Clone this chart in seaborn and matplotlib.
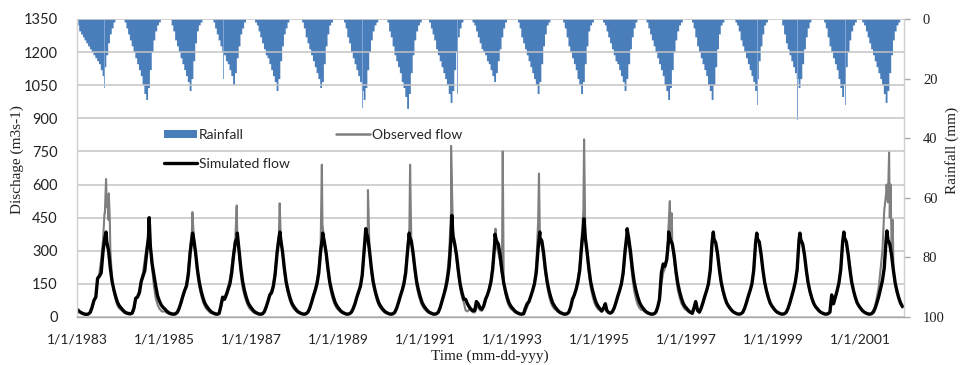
import matplotlib
matplotlib.use("Agg")
import matplotlib.pyplot as plt
import pandas as pd
import seaborn as sns
from matplotlib.lines import Line2D
from matplotlib.patches import Patch

# ---------------- data ----------------
years = list(range(1983, 2002))
half_month_days = [8, 23]          # two readings per month

sim_flow = [
    [32, 24, 19, 15, 13, 12, 14, 22, 45, 75, 90, 175, 185, 200, 300, 360, 340, 300, 220, 160, 120, 90, 65, 50],
    [40, 30, 22, 18, 16, 15, 18, 40, 85, 90, 110, 160, 185, 210, 290, 360, 320, 240, 190, 140, 95, 72, 55, 44],
    [36, 27, 20, 16, 14, 13, 15, 22, 40, 65, 95, 120, 140, 190, 290, 355, 350, 290, 215, 160, 118, 88, 64, 50],
    [38, 28, 21, 17, 14, 13, 16, 50, 90, 80, 100, 125, 150, 200, 280, 340, 360, 300, 220, 160, 118, 88, 64, 50],
    [38, 28, 21, 17, 14, 13, 15, 24, 45, 70, 100, 110, 140, 195, 290, 355, 350, 295, 220, 160, 120, 90, 65, 50],
    [38, 28, 21, 17, 14, 13, 15, 22, 40, 65, 95, 120, 150, 200, 300, 360, 340, 290, 220, 160, 120, 90, 65, 50],
    [38, 28, 21, 17, 14, 13, 15, 22, 38, 60, 90, 115, 140, 190, 300, 390, 360, 295, 220, 160, 120, 90, 65, 50],
    [38, 28, 21, 17, 14, 13, 15, 22, 40, 65, 95, 120, 150, 200, 300, 365, 345, 290, 220, 160, 120, 90, 65, 50],
    [38, 28, 21, 17, 14, 13, 15, 22, 42, 70, 100, 130, 170, 230, 360, 370, 330, 280, 210, 150, 110, 80, 80, 60],
    [45, 35, 28, 30, 70, 60, 40, 35, 50, 80, 100, 125, 160, 220, 330, 345, 330, 280, 210, 155, 115, 85, 62, 48],
    [38, 28, 21, 17, 14, 13, 15, 40, 60, 70, 95, 120, 150, 200, 310, 360, 345, 290, 215, 160, 118, 88, 64, 50],
    [38, 28, 21, 17, 14, 13, 15, 22, 45, 80, 100, 125, 160, 210, 320, 400, 360, 295, 220, 160, 120, 90, 65, 50],
    [38, 28, 40, 60, 30, 20, 18, 24, 40, 65, 95, 120, 150, 200, 300, 370, 355, 295, 220, 160, 120, 90, 65, 50],
    [38, 28, 21, 17, 14, 13, 15, 22, 45, 80, 200, 240, 230, 260, 350, 350, 330, 280, 210, 155, 115, 85, 62, 48],
    [38, 28, 21, 17, 40, 70, 30, 22, 40, 65, 95, 120, 150, 210, 340, 355, 335, 285, 215, 158, 118, 88, 64, 50],
    [38, 28, 21, 17, 14, 13, 15, 22, 40, 65, 95, 120, 150, 210, 335, 355, 340, 285, 215, 158, 118, 88, 64, 50],
    [38, 28, 21, 17, 14, 13, 15, 22, 40, 65, 95, 125, 160, 215, 350, 350, 330, 280, 212, 155, 115, 86, 63, 48],
    [38, 28, 21, 17, 14, 13, 15, 22, 100, 60, 90, 120, 155, 215, 340, 360, 340, 285, 215, 158, 118, 88, 64, 50],
    [38, 28, 21, 17, 14, 13, 15, 22, 40, 65, 95, 130, 165, 220, 350, 350, 330, 280, 212, 155, 115, 86, 63, 48],
]
# (value, month, day) of the simulated annual peak
sim_peaks = [
    (385, 9, 2), (450, 8, 29), (380, 8, 29), (380, 9, 8), (385, 9, 1),
    (380, 8, 25), (400, 8, 22), (380, 8, 22), (460, 8, 15), (375, 8, 11),
    (385, 8, 22), (445, 8, 28), (400, 8, 25), (385, 8, 8), (385, 8, 18),
    (380, 8, 18), (380, 8, 15), (385, 8, 18), (390, 8, 15),
]

obs_flow = [
    [28, 20, 16, 13, 11, 10, 12, 20, 40, 70, 95, 170, 200, 260, 350, 470, 500, 440, 300, 170, 110, 75, 50, 38],
    [32, 24, 17, 14, 12, 11, 14, 30, 80, 95, 120, 170, 200, 260, 320, 370, 320, 220, 140, 85, 55, 38, 28, 24],
    [26, 19, 15, 12, 10, 10, 12, 18, 35, 60, 90, 120, 150, 210, 320, 390, 360, 280, 200, 140, 100, 70, 50, 36],
    [28, 20, 16, 13, 11, 10, 13, 40, 80, 90, 110, 140, 170, 230, 300, 360, 370, 280, 190, 130, 95, 70, 50, 36],
    [28, 20, 16, 13, 11, 10, 12, 20, 40, 70, 105, 120, 150, 210, 310, 370, 360, 285, 205, 145, 105, 75, 54, 40],
    [30, 22, 17, 14, 12, 11, 13, 20, 38, 65, 100, 130, 165, 220, 330, 420, 340, 280, 200, 140, 100, 72, 52, 38],
    [30, 22, 17, 14, 12, 11, 13, 20, 35, 55, 85, 110, 140, 185, 290, 360, 410, 290, 200, 145, 105, 75, 54, 40],
    [30, 22, 17, 14, 12, 11, 13, 20, 38, 62, 95, 125, 165, 220, 330, 400, 340, 280, 200, 140, 100, 72, 52, 38],
    [30, 22, 17, 14, 12, 11, 13, 20, 40, 70, 105, 150, 200, 290, 480, 400, 330, 260, 190, 130, 90, 65, 30, 25],
    [35, 28, 22, 20, 40, 45, 30, 28, 45, 70, 100, 130, 170, 240, 330, 320, 290, 250, 200, 150, 100, 68, 48, 36],
    [30, 22, 17, 14, 12, 11, 13, 25, 45, 65, 95, 125, 160, 230, 430, 360, 320, 270, 200, 140, 95, 65, 47, 36],
    [30, 22, 17, 14, 12, 11, 13, 20, 42, 75, 100, 130, 170, 230, 360, 480, 370, 280, 200, 135, 95, 65, 47, 36],
    [30, 22, 30, 40, 25, 18, 15, 20, 38, 60, 90, 115, 145, 190, 280, 340, 320, 260, 180, 120, 80, 55, 40, 32],
    [30, 22, 17, 14, 12, 11, 13, 20, 42, 75, 150, 200, 220, 280, 420, 390, 320, 260, 185, 125, 88, 62, 46, 35],
    [30, 22, 18, 15, 30, 50, 25, 20, 38, 62, 92, 118, 150, 210, 340, 355, 330, 280, 210, 152, 112, 82, 60, 46],
    [34, 26, 19, 15, 13, 12, 14, 20, 38, 62, 92, 118, 150, 210, 335, 355, 335, 280, 212, 155, 115, 85, 62, 47],
    [34, 26, 19, 15, 13, 12, 14, 20, 38, 62, 92, 122, 158, 212, 348, 348, 325, 276, 208, 152, 112, 84, 61, 46],
    [34, 26, 19, 15, 13, 12, 14, 20, 60, 58, 88, 118, 152, 212, 338, 358, 338, 282, 240, 155, 115, 85, 62, 47],
    [34, 26, 19, 15, 13, 12, 20, 30, 50, 90, 140, 220, 300, 480, 560, 520, 450, 320, 220, 150, 105, 75, 55, 42],
]
# (year, month, day, value) observed daily spikes
obs_spikes = [
    (1983, 8, 20, 470), (1983, 9, 2, 625), (1983, 9, 12, 530), (1983, 9, 25, 560), (1983, 10, 3, 450),
    (1984, 8, 28, 380), (1985, 8, 27, 475), (1986, 9, 3, 505), (1987, 8, 30, 515),
    (1988, 8, 18, 690), (1989, 9, 9, 575), (1990, 8, 29, 690), (1991, 8, 8, 775),
    (1992, 8, 15, 400), (1992, 10, 15, 750), (1993, 8, 15, 650), (1994, 8, 29, 805),
    (1995, 8, 28, 370), (1996, 8, 18, 525), (1996, 9, 3, 470), (1997, 8, 20, 380),
    (2001, 8, 12, 600), (2001, 9, 2, 745), (2001, 9, 14, 600), (2001, 10, 3, 440),
]

rain = [
    [2, 4, 5, 6, 7, 8, 9, 10, 11, 12, 13, 14, 15, 17, 19, 16, 12, 8, 5, 3, 1, 0, 0, 0],
    [0, 0, 1, 3, 5, 7, 9, 11, 13, 15, 17, 19, 22, 25, 27, 23, 17, 11, 7, 4, 2, 1, 0, 0],
    [0, 0, 0, 0, 2, 4, 7, 9, 11, 13, 15, 17, 19, 21, 24, 20, 14, 8, 4, 2, 1, 0, 0, 0],
    [0, 0, 0, 1, 3, 5, 7, 9, 11, 12, 14, 15, 17, 19, 22, 18, 13, 9, 5, 3, 1, 0, 0, 0],
    [0, 0, 1, 2, 4, 6, 8, 10, 12, 13, 15, 17, 19, 21, 24, 20, 14, 9, 5, 3, 1, 0, 0, 0],
    [0, 0, 0, 0, 1, 3, 6, 8, 10, 12, 14, 16, 18, 20, 23, 21, 15, 9, 5, 2, 1, 0, 0, 0],
    [0, 0, 0, 1, 3, 6, 8, 11, 13, 15, 17, 19, 21, 24, 27, 23, 17, 11, 7, 4, 2, 1, 0, 0],
    [0, 0, 0, 1, 4, 6, 9, 12, 14, 16, 18, 21, 23, 26, 30, 25, 18, 12, 7, 4, 2, 1, 0, 0],
    [0, 0, 1, 3, 5, 7, 10, 12, 14, 16, 18, 20, 22, 25, 28, 24, 17, 11, 6, 3, 1, 0, 0, 0],
    [0, 0, 1, 2, 4, 6, 8, 10, 11, 12, 14, 15, 17, 19, 21, 18, 14, 10, 6, 3, 1, 0, 0, 0],
    [0, 0, 0, 1, 3, 6, 8, 10, 12, 14, 16, 18, 20, 22, 25, 21, 15, 9, 5, 2, 1, 0, 0, 0],
    [0, 0, 0, 0, 1, 3, 6, 9, 11, 13, 15, 17, 20, 22, 25, 21, 15, 9, 4, 2, 1, 0, 0, 0],
    [0, 0, 1, 2, 4, 6, 8, 10, 12, 14, 15, 17, 19, 21, 24, 20, 15, 10, 6, 3, 1, 0, 0, 0],
    [0, 0, 1, 3, 5, 7, 9, 11, 13, 15, 17, 19, 22, 24, 27, 23, 17, 11, 7, 4, 2, 1, 0, 0],
    [0, 0, 0, 1, 3, 6, 9, 11, 13, 15, 17, 19, 22, 24, 27, 22, 16, 10, 5, 2, 1, 0, 0, 0],
    [0, 0, 0, 1, 2, 4, 7, 9, 11, 13, 15, 17, 19, 21, 24, 20, 14, 9, 5, 2, 1, 0, 0, 0],
    [0, 0, 0, 0, 0, 2, 5, 8, 10, 12, 14, 16, 18, 20, 23, 20, 15, 10, 6, 3, 1, 0, 0, 0],
    [0, 0, 0, 0, 1, 3, 6, 9, 11, 13, 15, 17, 20, 23, 26, 22, 16, 11, 7, 4, 2, 1, 0, 0],
    [0, 1, 2, 4, 6, 8, 10, 12, 14, 16, 18, 20, 22, 25, 28, 24, 18, 12, 7, 4, 2, 1, 0, 0],
]
# (year, month, day, mm) single heavy-rain days
rain_spikes = [
    (1983, 6, 10, 24), (1983, 8, 20, 23), (1984, 7, 1, 39), (1984, 9, 5, 34), (1984, 8, 10, 30),
    (1985, 7, 15, 28), (1985, 9, 1, 26), (1986, 7, 20, 27), (1986, 5, 15, 20), (1987, 8, 1, 27),
    (1987, 6, 10, 22), (1988, 9, 20, 36), (1988, 7, 10, 26), (1989, 7, 25, 30), (1989, 9, 15, 28),
    (1990, 8, 5, 32), (1990, 6, 20, 28), (1991, 8, 15, 33), (1991, 10, 1, 25), (1992, 6, 15, 36),
    (1992, 10, 10, 36), (1993, 7, 20, 28), (1994, 8, 10, 30), (1995, 8, 1, 30), (1995, 9, 20, 33),
    (1996, 8, 20, 33), (1996, 6, 15, 29), (1997, 10, 20, 42), (1997, 7, 15, 30), (1998, 6, 20, 35),
    (1998, 8, 25, 29), (1999, 7, 25, 34), (2000, 7, 10, 31), (2000, 9, 1, 29), (2001, 8, 10, 31),
    (2001, 9, 25, 28), (1984, 1, 20, 8), (1986, 12, 5, 6), (1989, 1, 15, 9), (1991, 12, 10, 7),
    (1993, 12, 20, 8), (1996, 1, 25, 10), (1999, 2, 10, 6), (2001, 12, 10, 6),
]

x_tick_years = [1983, 1985, 1987, 1989, 1991, 1993, 1995, 1997, 1999, 2001]
x_tick_labels = ["1/1/1983", "1/1/1985", "1/1/1987", "1/1/1989", "1/1/1991",
                 "1/1/1993", "1/1/1995", "1/1/1997", "1/1/1999", "1/1/2001"]
left_ticks = [0, 150, 300, 450, 600, 750, 900, 1050, 1200, 1350]
right_ticks = [0, 20, 40, 60, 80, 100]

# ---------------- build tables ----------------
def half_month_dates(y):
    return [pd.Timestamp(y, m, d) for m in range(1, 13) for d in half_month_days]

rows = []
rain_rows = []
for i, y in enumerate(years):
    dts = half_month_dates(y)
    for dt, v in zip(dts, sim_flow[i]):
        rows.append((dt, v, "Simulated flow"))
    pv, pm, pday = sim_peaks[i]
    rows.append((pd.Timestamp(y, pm, pday), pv, "Simulated flow"))
    for dt, v in zip(dts, obs_flow[i]):
        rows.append((dt, v, "Observed flow"))
    for dt, v in zip(dts, rain[i]):
        rain_rows.append((dt, v))
for (y, m, d, v) in obs_spikes:
    rows.append((pd.Timestamp(y, m, d), v, "Observed flow"))

flow = pd.DataFrame(rows, columns=["date", "flow", "series"]).sort_values("date")
rain_df = pd.DataFrame(rain_rows, columns=["date", "mm"])
spk_df = pd.DataFrame([(pd.Timestamp(y, m, d), v) for (y, m, d, v) in rain_spikes],
                      columns=["date", "mm"])

# ---------------- plot ----------------
sns.set_theme(style="white")
plt.rcParams["font.family"] = ["Lato", "DejaVu Sans"]

W, H = 961, 365
fig = plt.figure(figsize=(W / 100, H / 100), dpi=100)
left, right, top, bottom = 77, 903.5, 19, 317
ax = fig.add_axes([left / W, 1 - bottom / H, (right - left) / W, (bottom - top) / H])
ax2 = ax.twinx()

rain_blue = "#4a7ebb"
ax2.fill_between(rain_df["date"], 0, rain_df["mm"], step="mid", color=rain_blue, linewidth=0)
ax2.bar(spk_df["date"], spk_df["mm"], width=2.5, color="#7fa5d6", linewidth=0, align="center")
ax2.set_ylim(100, 0)
ax2.set_yticks(right_ticks)
ax2.tick_params(axis="y", labelsize=10.5, length=4, color="#a6a6a6", width=1, pad=10,
                labelcolor="#222222")
for lab in ax2.get_yticklabels():
    lab.set_family(["Liberation Serif", "DejaVu Serif"])
for s in ax2.spines.values():
    s.set_visible(False)

ax.set_zorder(ax2.get_zorder() + 1)
ax.patch.set_visible(False)

sns.lineplot(data=flow[flow.series == "Observed flow"], x="date", y="flow", ax=ax,
             color="#7f7f7f", linewidth=1.5, estimator=None, legend=False)
sns.lineplot(data=flow[flow.series == "Simulated flow"], x="date", y="flow", ax=ax,
             color="black", linewidth=2.4, estimator=None, legend=False)

ax.set_xlim(pd.Timestamp(1983, 1, 1), pd.Timestamp(2002, 1, 1))
ax.set_ylim(0, 1350)
ax.set_yticks(left_ticks)
ax.set_xticks([pd.Timestamp(y, 1, 1) for y in x_tick_years])
ax.set_xticklabels(x_tick_labels)
ax.set_xlabel("")
ax.set_ylabel("")
ax.yaxis.grid(True, color="#c3c3c3", linewidth=1.1)
ax.xaxis.grid(False)
ax.tick_params(axis="y", length=0, labelsize=10.5, pad=14, labelcolor="#222222")
ax.tick_params(axis="x", length=4, color="#a6a6a6", labelsize=10, pad=8, labelcolor="#222222")
ax.spines["top"].set_visible(False)
ax.spines["left"].set_color("#d0d0d0")
ax.spines["right"].set_color("#d0d0d0")
ax.spines["bottom"].set_color("#a6a6a6")
for s in ax.spines.values():
    s.set_linewidth(1.0)

serif = ["Liberation Serif", "DejaVu Serif"]
fig.text(17 / W, 1 - 160 / H, "Dischage (m3s-1)", rotation=90, ha="center", va="center",
         family=serif, fontsize=11, color="#222222")
fig.text(952 / W, 1 - 150 / H, "Rainfall (mm)", rotation=90, ha="center", va="center",
         family=serif, fontsize=11, color="#222222")
fig.text(490 / W, 1 - 356 / H, "Time (mm-dd-yyy)", ha="center", va="center",
         family=serif, fontsize=11, color="#222222")

handles = [Patch(facecolor=rain_blue, edgecolor="none"),
           Line2D([], [], color="black", linewidth=2.4),
           Line2D([], [], color="#7f7f7f", linewidth=1.8)]
labels = ["Rainfall", "Simulated flow", "Observed flow"]
fig.legend(handles, labels, ncol=2, loc="upper left", bbox_to_anchor=(158 / W, 1 - 123 / H),
           frameon=False, fontsize=10, handlelength=2.4, handleheight=0.5, handletextpad=0.15,
           columnspacing=3.35, labelspacing=1.25, borderaxespad=0)

fig.savefig("out.png", dpi=100)
